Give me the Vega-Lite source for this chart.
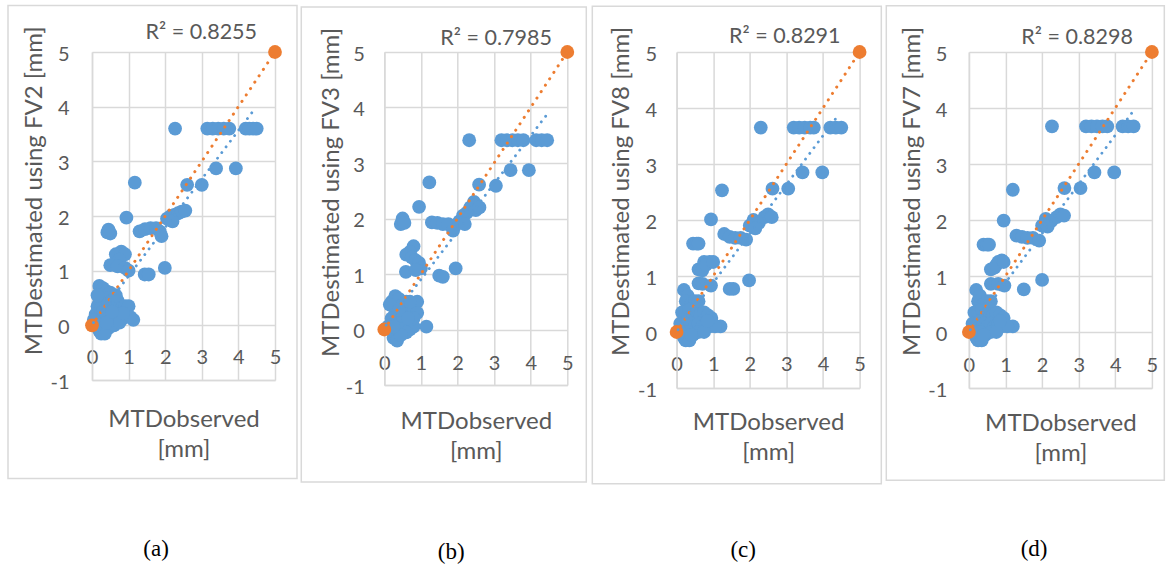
{
  "$schema": "https://vega.github.io/schema/vega-lite/v6.json",
  "background": "white",
  "padding": {"left": 7, "top": 4, "right": 0, "bottom": 0},
  "bounds": "flush",
  "spacing": 109.3,
  "config": {
    "view": {"stroke": null},
    "font": "Lato",
    "axis": {
      "grid": true, "gridColor": "#d9d9d9", "gridWidth": 1.5,
      "domainColor": "#d9d9d9", "domainWidth": 1.5,
      "ticks": false, "tickSize": 0,
      "labelFont": "Lato", "labelFontSize": 20, "labelColor": "#595959",
      "labelFlush": false, "labelOverlap": false, "labelSeparation": 0, "labelBound": false,
      "titleFont": "Lato", "titleFontSize": 24, "titleFontWeight": "normal", "titleColor": "#595959",
      "labelExpr": "'' + datum.value"
    }
  },
  "datasets": {
    "pts": [
      {"p":"a","x":2.27,"y":3.6},{"p":"a","x":3.15,"y":3.6},{"p":"a","x":3.3,"y":3.6},{"p":"a","x":3.45,"y":3.6},{"p":"a","x":3.6,"y":3.6},{"p":"a","x":3.75,"y":3.6},{"p":"a","x":4.2,"y":3.6},{"p":"a","x":4.3,"y":3.6},{"p":"a","x":4.4,"y":3.6},{"p":"a","x":4.5,"y":3.6},
      {"p":"a","x":3.39,"y":2.87},{"p":"a","x":3.93,"y":2.87},
      {"p":"a","x":1.17,"y":2.61},{"p":"a","x":2.6,"y":2.57},{"p":"a","x":3.0,"y":2.57},
      {"p":"a","x":2.05,"y":1.95},{"p":"a","x":2.15,"y":2.0},{"p":"a","x":2.25,"y":2.02},{"p":"a","x":2.35,"y":2.05},{"p":"a","x":2.45,"y":2.08},{"p":"a","x":2.55,"y":2.1},{"p":"a","x":2.2,"y":1.9},
      {"p":"a","x":0.94,"y":1.97},
      {"p":"a","x":0.42,"y":1.7},{"p":"a","x":0.5,"y":1.68},{"p":"a","x":0.45,"y":1.75},
      {"p":"a","x":1.3,"y":1.72},{"p":"a","x":1.45,"y":1.76},{"p":"a","x":1.6,"y":1.78},{"p":"a","x":1.75,"y":1.78},{"p":"a","x":1.85,"y":1.72},{"p":"a","x":1.9,"y":1.63},
      {"p":"a","x":0.65,"y":1.3},{"p":"a","x":0.8,"y":1.35},{"p":"a","x":0.9,"y":1.3},{"p":"a","x":0.75,"y":1.2},{"p":"a","x":0.6,"y":1.12},{"p":"a","x":0.5,"y":1.1},{"p":"a","x":0.7,"y":1.08},{"p":"a","x":0.9,"y":1.05},{"p":"a","x":1.0,"y":1.0},
      {"p":"a","x":1.44,"y":0.93},{"p":"a","x":1.55,"y":0.93},{"p":"a","x":1.99,"y":1.05},
      {"p":"a","x":0.2,"y":0.72},{"p":"a","x":0.3,"y":0.68},{"p":"a","x":0.4,"y":0.62},{"p":"a","x":0.5,"y":0.6},{"p":"a","x":0.15,"y":0.35},{"p":"a","x":0.25,"y":0.45},{"p":"a","x":0.35,"y":0.5},{"p":"a","x":0.45,"y":0.4},{"p":"a","x":0.55,"y":0.45},{"p":"a","x":0.6,"y":0.35},{"p":"a","x":0.7,"y":0.45},{"p":"a","x":0.8,"y":0.3},{"p":"a","x":0.9,"y":0.35},{"p":"a","x":1.0,"y":0.35},{"p":"a","x":0.1,"y":0.2},{"p":"a","x":0.2,"y":0.15},{"p":"a","x":0.3,"y":0.25},{"p":"a","x":0.4,"y":0.2},{"p":"a","x":0.5,"y":0.1},{"p":"a","x":0.6,"y":0.15},{"p":"a","x":0.7,"y":0.2},{"p":"a","x":0.8,"y":0.1},{"p":"a","x":0.9,"y":0.15},{"p":"a","x":0.3,"y":0.0},{"p":"a","x":0.45,"y":-0.05},{"p":"a","x":0.6,"y":0.0},{"p":"a","x":0.2,"y":-0.1},{"p":"a","x":0.25,"y":-0.15},{"p":"a","x":0.35,"y":-0.15},{"p":"a","x":0.1,"y":0.0},{"p":"a","x":0.05,"y":0.1},{"p":"a","x":1.13,"y":0.1},{"p":"a","x":1.05,"y":0.15},
      {"p":"a","x":0.65,"y":0.55},{"p":"a","x":0.75,"y":0.05},{"p":"a","x":0.15,"y":0.55},{"p":"a","x":0.4,"y":0.05},{"p":"a","x":0.85,"y":0.22},{"p":"a","x":0.55,"y":0.25},

      {"p":"b","x":2.32,"y":3.41},{"p":"b","x":3.2,"y":3.41},{"p":"b","x":3.35,"y":3.41},{"p":"b","x":3.5,"y":3.41},{"p":"b","x":3.65,"y":3.41},{"p":"b","x":3.8,"y":3.41},{"p":"b","x":4.15,"y":3.41},{"p":"b","x":4.3,"y":3.41},{"p":"b","x":4.45,"y":3.41},
      {"p":"b","x":3.45,"y":2.87},{"p":"b","x":3.95,"y":2.87},
      {"p":"b","x":1.23,"y":2.65},{"p":"b","x":2.59,"y":2.61},{"p":"b","x":3.05,"y":2.59},
      {"p":"b","x":0.95,"y":2.21},
      {"p":"b","x":0.5,"y":2.0},{"p":"b","x":0.45,"y":1.9},{"p":"b","x":0.55,"y":1.92},
      {"p":"b","x":1.3,"y":1.93},{"p":"b","x":1.45,"y":1.92},{"p":"b","x":1.6,"y":1.9},{"p":"b","x":1.75,"y":1.9},{"p":"b","x":1.88,"y":1.78},
      {"p":"b","x":2.05,"y":1.95},{"p":"b","x":2.15,"y":2.05},{"p":"b","x":2.25,"y":2.1},{"p":"b","x":2.35,"y":2.2},{"p":"b","x":2.45,"y":2.3},{"p":"b","x":2.5,"y":2.15},{"p":"b","x":2.6,"y":2.2},{"p":"b","x":2.2,"y":1.9},
      {"p":"b","x":0.8,"y":1.5},{"p":"b","x":0.7,"y":1.4},{"p":"b","x":0.6,"y":1.35},{"p":"b","x":0.75,"y":1.3},{"p":"b","x":0.85,"y":1.25},{"p":"b","x":0.95,"y":1.2},{"p":"b","x":1.0,"y":1.1},
      {"p":"b","x":0.59,"y":1.04},{"p":"b","x":0.86,"y":1.07},
      {"p":"b","x":1.5,"y":0.97},{"p":"b","x":1.6,"y":0.95},{"p":"b","x":1.95,"y":1.1},
      {"p":"b","x":0.2,"y":0.5},{"p":"b","x":0.3,"y":0.6},{"p":"b","x":0.4,"y":0.55},{"p":"b","x":0.5,"y":0.45},{"p":"b","x":0.6,"y":0.5},{"p":"b","x":0.8,"y":0.45},{"p":"b","x":0.9,"y":0.5},{"p":"b","x":0.7,"y":0.3},{"p":"b","x":0.3,"y":0.3},{"p":"b","x":0.2,"y":0.2},{"p":"b","x":0.15,"y":0.45},{"p":"b","x":0.4,"y":0.1},{"p":"b","x":0.5,"y":0.05},{"p":"b","x":0.6,"y":0.1},{"p":"b","x":0.7,"y":0.0},{"p":"b","x":0.8,"y":0.05},{"p":"b","x":0.3,"y":-0.1},{"p":"b","x":0.25,"y":-0.15},{"p":"b","x":0.35,"y":-0.2},{"p":"b","x":0.1,"y":0.05},{"p":"b","x":1.15,"y":0.05},{"p":"b","x":0.5,"y":0.25},{"p":"b","x":0.9,"y":0.3},{"p":"b","x":0.6,"y":-0.05},{"p":"b","x":0.8,"y":0.2},
      {"p":"b","x":0.4,"y":0.35},{"p":"b","x":0.65,"y":0.2},{"p":"b","x":0.45,"y":-0.1},{"p":"b","x":0.25,"y":0.05},{"p":"b","x":0.7,"y":0.5},

      {"p":"c","x":2.3,"y":3.65},{"p":"c","x":3.2,"y":3.65},{"p":"c","x":3.35,"y":3.65},{"p":"c","x":3.5,"y":3.65},{"p":"c","x":3.65,"y":3.65},{"p":"c","x":3.75,"y":3.65},{"p":"c","x":4.2,"y":3.65},{"p":"c","x":4.35,"y":3.65},{"p":"c","x":4.5,"y":3.65},
      {"p":"c","x":3.44,"y":2.85},{"p":"c","x":3.98,"y":2.85},
      {"p":"c","x":1.24,"y":2.53},{"p":"c","x":2.62,"y":2.56},{"p":"c","x":3.05,"y":2.56},
      {"p":"c","x":0.94,"y":2.01},
      {"p":"c","x":2.0,"y":1.9},{"p":"c","x":2.1,"y":2.0},{"p":"c","x":2.25,"y":1.95},{"p":"c","x":2.4,"y":2.05},{"p":"c","x":2.5,"y":2.1},{"p":"c","x":2.6,"y":2.05},{"p":"c","x":2.15,"y":1.85},
      {"p":"c","x":1.3,"y":1.75},{"p":"c","x":1.45,"y":1.7},{"p":"c","x":1.6,"y":1.68},{"p":"c","x":1.75,"y":1.68},{"p":"c","x":1.9,"y":1.65},
      {"p":"c","x":0.45,"y":1.58},{"p":"c","x":0.55,"y":1.58},{"p":"c","x":0.6,"y":1.58},
      {"p":"c","x":0.6,"y":1.12},{"p":"c","x":0.75,"y":1.25},{"p":"c","x":0.9,"y":1.25},{"p":"c","x":0.7,"y":1.1},{"p":"c","x":0.8,"y":1.2},{"p":"c","x":1.0,"y":1.25},
      {"p":"c","x":0.6,"y":0.87},{"p":"c","x":0.71,"y":0.86},{"p":"c","x":0.94,"y":0.83},
      {"p":"c","x":1.45,"y":0.77},{"p":"c","x":1.55,"y":0.77},{"p":"c","x":1.98,"y":0.92},
      {"p":"c","x":0.2,"y":0.75},{"p":"c","x":0.3,"y":0.65},{"p":"c","x":0.25,"y":0.55},{"p":"c","x":0.4,"y":0.5},{"p":"c","x":0.5,"y":0.55},{"p":"c","x":0.15,"y":0.35},{"p":"c","x":0.35,"y":0.4},{"p":"c","x":0.45,"y":0.3},{"p":"c","x":0.55,"y":0.35},{"p":"c","x":0.65,"y":0.3},{"p":"c","x":0.75,"y":0.35},{"p":"c","x":0.85,"y":0.3},{"p":"c","x":0.95,"y":0.25},{"p":"c","x":0.1,"y":0.15},{"p":"c","x":0.2,"y":0.1},{"p":"c","x":0.3,"y":0.2},{"p":"c","x":0.4,"y":0.15},{"p":"c","x":0.5,"y":0.1},{"p":"c","x":0.6,"y":0.15},{"p":"c","x":0.7,"y":0.1},{"p":"c","x":0.8,"y":0.15},{"p":"c","x":0.9,"y":0.1},{"p":"c","x":0.3,"y":0.0},{"p":"c","x":0.45,"y":-0.05},{"p":"c","x":0.6,"y":0.0},{"p":"c","x":0.2,"y":-0.1},{"p":"c","x":0.25,"y":-0.15},{"p":"c","x":0.35,"y":-0.15},{"p":"c","x":0.1,"y":0.0},{"p":"c","x":1.2,"y":0.1},{"p":"c","x":1.05,"y":0.1},
      {"p":"c","x":0.6,"y":0.55},{"p":"c","x":0.75,"y":0.0},{"p":"c","x":0.4,"y":-0.05},{"p":"c","x":0.85,"y":0.2},

      {"p":"d","x":2.27,"y":3.67},{"p":"d","x":3.2,"y":3.67},{"p":"d","x":3.35,"y":3.67},{"p":"d","x":3.5,"y":3.67},{"p":"d","x":3.65,"y":3.67},{"p":"d","x":3.78,"y":3.67},{"p":"d","x":4.2,"y":3.67},{"p":"d","x":4.35,"y":3.67},{"p":"d","x":4.5,"y":3.67},
      {"p":"d","x":3.43,"y":2.85},{"p":"d","x":3.97,"y":2.85},
      {"p":"d","x":1.2,"y":2.54},{"p":"d","x":2.61,"y":2.57},{"p":"d","x":3.05,"y":2.57},
      {"p":"d","x":0.95,"y":1.99},
      {"p":"d","x":2.0,"y":1.9},{"p":"d","x":2.1,"y":2.02},{"p":"d","x":2.25,"y":1.98},{"p":"d","x":2.4,"y":2.05},{"p":"d","x":2.5,"y":2.1},{"p":"d","x":2.6,"y":2.08},{"p":"d","x":2.15,"y":1.88},
      {"p":"d","x":1.3,"y":1.72},{"p":"d","x":1.45,"y":1.7},{"p":"d","x":1.6,"y":1.68},{"p":"d","x":1.75,"y":1.68},{"p":"d","x":1.92,"y":1.63},
      {"p":"d","x":0.4,"y":1.56},{"p":"d","x":0.5,"y":1.56},{"p":"d","x":0.55,"y":1.56},
      {"p":"d","x":0.6,"y":1.12},{"p":"d","x":0.7,"y":1.15},{"p":"d","x":0.8,"y":1.25},{"p":"d","x":0.9,"y":1.28},{"p":"d","x":0.75,"y":1.2},{"p":"d","x":0.95,"y":1.25},
      {"p":"d","x":0.6,"y":0.86},{"p":"d","x":0.8,"y":0.86},{"p":"d","x":0.97,"y":0.83},
      {"p":"d","x":1.5,"y":0.76},{"p":"d","x":2.0,"y":0.93},
      {"p":"d","x":0.2,"y":0.75},{"p":"d","x":0.3,"y":0.65},{"p":"d","x":0.25,"y":0.55},{"p":"d","x":0.4,"y":0.5},{"p":"d","x":0.5,"y":0.55},{"p":"d","x":0.15,"y":0.35},{"p":"d","x":0.35,"y":0.4},{"p":"d","x":0.45,"y":0.3},{"p":"d","x":0.55,"y":0.35},{"p":"d","x":0.65,"y":0.3},{"p":"d","x":0.75,"y":0.35},{"p":"d","x":0.85,"y":0.3},{"p":"d","x":0.95,"y":0.25},{"p":"d","x":0.1,"y":0.15},{"p":"d","x":0.2,"y":0.1},{"p":"d","x":0.3,"y":0.2},{"p":"d","x":0.4,"y":0.15},{"p":"d","x":0.5,"y":0.1},{"p":"d","x":0.6,"y":0.15},{"p":"d","x":0.7,"y":0.1},{"p":"d","x":0.8,"y":0.15},{"p":"d","x":0.9,"y":0.1},{"p":"d","x":0.3,"y":0.0},{"p":"d","x":0.45,"y":-0.05},{"p":"d","x":0.6,"y":0.0},{"p":"d","x":0.2,"y":-0.1},{"p":"d","x":0.25,"y":-0.15},{"p":"d","x":0.35,"y":-0.15},{"p":"d","x":0.1,"y":0.0},{"p":"d","x":1.2,"y":0.1},{"p":"d","x":1.05,"y":0.1},
      {"p":"d","x":0.6,"y":0.55},{"p":"d","x":0.75,"y":0.0},{"p":"d","x":0.4,"y":-0.05},{"p":"d","x":0.85,"y":0.2}
    ],
    "ref": [
      {"p":"a","x":0,"y":0},{"p":"a","x":5,"y":5},
      {"p":"b","x":0,"y":0},{"p":"b","x":5,"y":5},
      {"p":"c","x":0,"y":0},{"p":"c","x":5,"y":5},
      {"p":"d","x":0,"y":0},{"p":"d","x":5,"y":5}
    ],
    "trend": [
      {"p":"a","x":0.04,"y":0.05},{"p":"a","x":4.47,"y":3.98},
      {"p":"b","x":0.05,"y":0.08},{"p":"b","x":4.52,"y":3.94},
      {"p":"c","x":0.04,"y":0.04},{"p":"c","x":4.45,"y":3.9},
      {"p":"d","x":0.04,"y":0.04},{"p":"d","x":4.45,"y":3.91}
    ],
    "lab": [
      {"p":"a","r2":"R² = 0.8255","cap":"(a)"},
      {"p":"b","r2":"R² = 0.7985","cap":"(b)"},
      {"p":"c","r2":"R² = 0.8291","cap":"(c)"},
      {"p":"d","r2":"R² = 0.8298","cap":"(d)"}
    ]
  },
  "hconcat": [
    {
      "width": 183, "height": 328,
      "layer": [
        {"data": {"name": "pts"}, "transform": [{"filter": "datum.p == 'a'"}],
         "mark": {"type": "circle", "size": 190, "opacity": 1, "color": "#5B9BD5"},
         "encoding": {
           "x": {"field": "x", "type": "quantitative", "scale": {"domain": [0, 5], "nice": false, "zero": false},
                 "axis": {"values": [0,1,2,3,4,5], "tickCount": 10, "labelOverlap": false, "labelPadding": -16.7, "labelBaseline": "alphabetic", "title": ["MTDobserved", "[mm]"], "titleY": 46.7, "titleBaseline": "alphabetic", "titleLineHeight": 30}},
           "y": {"field": "y", "type": "quantitative", "scale": {"domain": [-1, 5], "nice": false, "zero": false},
                 "axis": {"values": [-1,0,1,2,3,4,5], "tickCount": 10, "labelOverlap": false, "labelPadding": 23, "labelBaseline": "middle", "labelOffset": 2, "title": "MTDestimated using FV2 [mm]", "titleX": -57.6, "titleY": 138.3, "titleAlign": "center", "titleBaseline": "middle", "titleAngle": 270}}
         }},
        {"data": {"name": "ref"}, "transform": [{"filter": "datum.p == 'a'"}],
         "mark": {"type": "circle", "size": 190, "opacity": 1, "color": "#ED7D31"},
         "encoding": {"x": {"field": "x", "type": "quantitative"}, "y": {"field": "y", "type": "quantitative"}}},
        {"data": {"name": "ref"}, "transform": [{"filter": "datum.p == 'a'"}],
         "mark": {"type": "line", "color": "#ED7D31", "strokeWidth": 3, "strokeDash": [0.1, 7.6], "strokeCap": "round"},
         "encoding": {"x": {"field": "x", "type": "quantitative"}, "y": {"field": "y", "type": "quantitative"}}},
        {"data": {"name": "trend"}, "transform": [{"filter": "datum.p == 'a'"}],
         "mark": {"type": "line", "color": "#5B9BD5", "strokeWidth": 2.8, "strokeDash": [0.1, 7], "strokeCap": "round"},
         "encoding": {"x": {"field": "x", "type": "quantitative"}, "y": {"field": "y", "type": "quantitative"}}},
        {"data": {"name": "lab"}, "transform": [{"filter": "datum.p == 'a'"}],
         "mark": {"type": "text", "align": "right", "baseline": "middle", "font": "Lato", "fontSize": 21.5, "color": "#595959"},
         "encoding": {"x": {"datum": 4.51, "type": "quantitative"}, "y": {"datum": 5.35, "type": "quantitative"}, "text": {"field": "r2"}}},
        {"data": {"name": "lab"}, "transform": [{"filter": "datum.p == 'a'"}],
         "mark": {"type": "text", "align": "center", "baseline": "middle", "font": "Liberation Serif", "fontSize": 23, "color": "#000000"},
         "encoding": {"x": {"datum": 1.75, "type": "quantitative"}, "y": {"datum": -4.1, "type": "quantitative"}, "text": {"field": "cap"}}},
        {"data": {"name": "lab"}, "transform": [{"filter": "datum.p == 'a'"}],
         "mark": {"type": "rect", "filled": false, "color": "#d9d9d9", "strokeWidth": 1.5, "clip": false},
         "encoding": {"x": {"datum": -2.295, "type": "quantitative"}, "x2": {"datum": 5.601}, "y": {"datum": 5.851, "type": "quantitative"}, "y2": {"datum": -2.802}}}
      ]
    },
    {
      "width": 183, "height": 333,
      "layer": [
        {"data": {"name": "pts"}, "transform": [{"filter": "datum.p == 'b'"}],
         "mark": {"type": "circle", "size": 190, "opacity": 1, "color": "#5B9BD5"},
         "encoding": {
           "x": {"field": "x", "type": "quantitative", "scale": {"domain": [0, 5], "nice": false, "zero": false},
                 "axis": {"values": [0,1,2,3,4,5], "tickCount": 10, "labelOverlap": false, "labelPadding": -16, "labelBaseline": "alphabetic", "title": ["MTDobserved", "[mm]"], "titleY": 43.6, "titleBaseline": "alphabetic", "titleLineHeight": 30}},
           "y": {"field": "y", "type": "quantitative", "scale": {"domain": [-1, 5], "nice": false, "zero": false},
                 "axis": {"values": [-1,0,1,2,3,4,5], "tickCount": 10, "labelOverlap": false, "labelPadding": 20, "labelBaseline": "middle", "labelOffset": 2, "title": "MTDestimated using FV3 [mm]", "titleX": -53, "titleY": 140, "titleAlign": "center", "titleBaseline": "middle", "titleAngle": 270}}
         }},
        {"data": {"name": "ref"}, "transform": [{"filter": "datum.p == 'b'"}],
         "mark": {"type": "circle", "size": 190, "opacity": 1, "color": "#ED7D31"},
         "encoding": {"x": {"field": "x", "type": "quantitative"}, "y": {"field": "y", "type": "quantitative"}}},
        {"data": {"name": "ref"}, "transform": [{"filter": "datum.p == 'b'"}],
         "mark": {"type": "line", "color": "#ED7D31", "strokeWidth": 3, "strokeDash": [0.1, 7.6], "strokeCap": "round"},
         "encoding": {"x": {"field": "x", "type": "quantitative"}, "y": {"field": "y", "type": "quantitative"}}},
        {"data": {"name": "trend"}, "transform": [{"filter": "datum.p == 'b'"}],
         "mark": {"type": "line", "color": "#5B9BD5", "strokeWidth": 2.8, "strokeDash": [0.1, 7], "strokeCap": "round"},
         "encoding": {"x": {"field": "x", "type": "quantitative"}, "y": {"field": "y", "type": "quantitative"}}},
        {"data": {"name": "lab"}, "transform": [{"filter": "datum.p == 'b'"}],
         "mark": {"type": "text", "align": "right", "baseline": "middle", "font": "Lato", "fontSize": 21.5, "color": "#595959"},
         "encoding": {"x": {"datum": 4.58, "type": "quantitative"}, "y": {"datum": 5.24, "type": "quantitative"}, "text": {"field": "r2"}}},
        {"data": {"name": "lab"}, "transform": [{"filter": "datum.p == 'b'"}],
         "mark": {"type": "text", "align": "center", "baseline": "middle", "font": "Liberation Serif", "fontSize": 23, "color": "#000000"},
         "encoding": {"x": {"datum": 1.83, "type": "quantitative"}, "y": {"datum": -4.0, "type": "quantitative"}, "text": {"field": "cap"}}},
        {"data": {"name": "lab"}, "transform": [{"filter": "datum.p == 'b'"}],
         "mark": {"type": "rect", "filled": false, "color": "#d9d9d9", "strokeWidth": 1.5, "clip": false},
         "encoding": {"x": {"datum": -2.268, "type": "quantitative"}, "x2": {"datum": 5.519}, "y": {"datum": 5.811, "type": "quantitative"}, "y2": {"datum": -2.748}}}
      ]
    },
    {
      "width": 183, "height": 336,
      "layer": [
        {"data": {"name": "pts"}, "transform": [{"filter": "datum.p == 'c'"}],
         "mark": {"type": "circle", "size": 190, "opacity": 1, "color": "#5B9BD5"},
         "encoding": {
           "x": {"field": "x", "type": "quantitative", "scale": {"domain": [0, 5], "nice": false, "zero": false},
                 "axis": {"values": [0,1,2,3,4,5], "tickCount": 10, "labelOverlap": false, "labelPadding": -17.3, "labelBaseline": "alphabetic", "title": ["MTDobserved", "[mm]"], "titleY": 41.7, "titleBaseline": "alphabetic", "titleLineHeight": 30}},
           "y": {"field": "y", "type": "quantitative", "scale": {"domain": [-1, 5], "nice": false, "zero": false},
                 "axis": {"values": [-1,0,1,2,3,4,5], "tickCount": 10, "labelOverlap": false, "labelPadding": 20, "labelBaseline": "middle", "labelOffset": 2, "title": "MTDestimated using FV8 [mm]", "titleX": -55, "titleY": 139, "titleAlign": "center", "titleBaseline": "middle", "titleAngle": 270}}
         }},
        {"data": {"name": "ref"}, "transform": [{"filter": "datum.p == 'c'"}],
         "mark": {"type": "circle", "size": 190, "opacity": 1, "color": "#ED7D31"},
         "encoding": {"x": {"field": "x", "type": "quantitative"}, "y": {"field": "y", "type": "quantitative"}}},
        {"data": {"name": "ref"}, "transform": [{"filter": "datum.p == 'c'"}],
         "mark": {"type": "line", "color": "#ED7D31", "strokeWidth": 3, "strokeDash": [0.1, 7.6], "strokeCap": "round"},
         "encoding": {"x": {"field": "x", "type": "quantitative"}, "y": {"field": "y", "type": "quantitative"}}},
        {"data": {"name": "trend"}, "transform": [{"filter": "datum.p == 'c'"}],
         "mark": {"type": "line", "color": "#5B9BD5", "strokeWidth": 2.8, "strokeDash": [0.1, 7], "strokeCap": "round"},
         "encoding": {"x": {"field": "x", "type": "quantitative"}, "y": {"field": "y", "type": "quantitative"}}},
        {"data": {"name": "lab"}, "transform": [{"filter": "datum.p == 'c'"}],
         "mark": {"type": "text", "align": "right", "baseline": "middle", "font": "Lato", "fontSize": 21.5, "color": "#595959"},
         "encoding": {"x": {"datum": 4.48, "type": "quantitative"}, "y": {"datum": 5.27, "type": "quantitative"}, "text": {"field": "r2"}}},
        {"data": {"name": "lab"}, "transform": [{"filter": "datum.p == 'c'"}],
         "mark": {"type": "text", "align": "center", "baseline": "middle", "font": "Liberation Serif", "fontSize": 23, "color": "#000000"},
         "encoding": {"x": {"datum": 1.82, "type": "quantitative"}, "y": {"datum": -3.9, "type": "quantitative"}, "text": {"field": "cap"}}},
        {"data": {"name": "lab"}, "transform": [{"filter": "datum.p == 'c'"}],
         "mark": {"type": "rect", "filled": false, "color": "#d9d9d9", "strokeWidth": 1.5, "clip": false},
         "encoding": {"x": {"datum": -2.303, "type": "quantitative"}, "x2": {"datum": 5.593}, "y": {"datum": 5.816, "type": "quantitative"}, "y2": {"datum": -2.709}}}
      ]
    },
    {
      "width": 183, "height": 336,
      "layer": [
        {"data": {"name": "pts"}, "transform": [{"filter": "datum.p == 'd'"}],
         "mark": {"type": "circle", "size": 190, "opacity": 1, "color": "#5B9BD5"},
         "encoding": {
           "x": {"field": "x", "type": "quantitative", "scale": {"domain": [0, 5], "nice": false, "zero": false},
                 "axis": {"values": [0,1,2,3,4,5], "tickCount": 10, "labelOverlap": false, "labelPadding": -17, "labelBaseline": "alphabetic", "title": ["MTDobserved", "[mm]"], "titleY": 42.9, "titleBaseline": "alphabetic", "titleLineHeight": 30}},
           "y": {"field": "y", "type": "quantitative", "scale": {"domain": [-1, 5], "nice": false, "zero": false},
                 "axis": {"values": [-1,0,1,2,3,4,5], "tickCount": 10, "labelOverlap": false, "labelPadding": 22, "labelBaseline": "middle", "labelOffset": 2, "title": "MTDestimated using FV7 [mm]", "titleX": -56.5, "titleY": 139, "titleAlign": "center", "titleBaseline": "middle", "titleAngle": 270}}
         }},
        {"data": {"name": "ref"}, "transform": [{"filter": "datum.p == 'd'"}],
         "mark": {"type": "circle", "size": 190, "opacity": 1, "color": "#ED7D31"},
         "encoding": {"x": {"field": "x", "type": "quantitative"}, "y": {"field": "y", "type": "quantitative"}}},
        {"data": {"name": "ref"}, "transform": [{"filter": "datum.p == 'd'"}],
         "mark": {"type": "line", "color": "#ED7D31", "strokeWidth": 3, "strokeDash": [0.1, 7.6], "strokeCap": "round"},
         "encoding": {"x": {"field": "x", "type": "quantitative"}, "y": {"field": "y", "type": "quantitative"}}},
        {"data": {"name": "trend"}, "transform": [{"filter": "datum.p == 'd'"}],
         "mark": {"type": "line", "color": "#5B9BD5", "strokeWidth": 2.8, "strokeDash": [0.1, 7], "strokeCap": "round"},
         "encoding": {"x": {"field": "x", "type": "quantitative"}, "y": {"field": "y", "type": "quantitative"}}},
        {"data": {"name": "lab"}, "transform": [{"filter": "datum.p == 'd'"}],
         "mark": {"type": "text", "align": "right", "baseline": "middle", "font": "Lato", "fontSize": 21.5, "color": "#595959"},
         "encoding": {"x": {"datum": 4.48, "type": "quantitative"}, "y": {"datum": 5.25, "type": "quantitative"}, "text": {"field": "r2"}}},
        {"data": {"name": "lab"}, "transform": [{"filter": "datum.p == 'd'"}],
         "mark": {"type": "text", "align": "center", "baseline": "middle", "font": "Liberation Serif", "fontSize": 23, "color": "#000000"},
         "encoding": {"x": {"datum": 1.78, "type": "quantitative"}, "y": {"datum": -3.88, "type": "quantitative"}, "text": {"field": "cap"}}},
        {"data": {"name": "lab"}, "transform": [{"filter": "datum.p == 'd'"}],
         "mark": {"type": "rect", "filled": false, "color": "#d9d9d9", "strokeWidth": 1.5, "clip": false},
         "encoding": {"x": {"datum": -2.257, "type": "quantitative"}, "x2": {"datum": 5.339}, "y": {"datum": 5.827, "type": "quantitative"}, "y2": {"datum": -2.648}}}
      ]
    }
  ]
}
